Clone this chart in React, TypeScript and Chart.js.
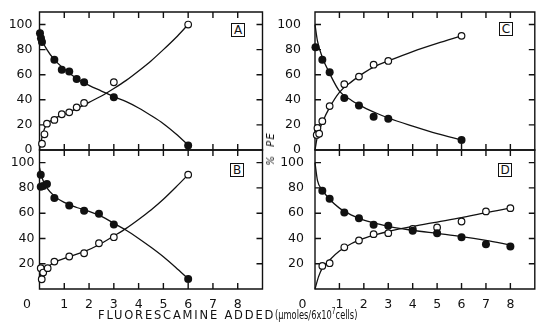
import React, { useEffect, useRef } from "react";
import { Chart, registerables } from "chart.js";
Chart.register(...registerables);

const FONT = "'DejaVu Sans', sans-serif";
const INK = "#111";

const xTickValues = [0, 1, 2, 3, 4, 5, 6, 7, 8];
const xTickLabels = ["0", "1", "2", "3", "4", "5", "6", "7", "8"];
const yTickValues = [0, 20, 40, 60, 80, 100];
const yTickLabels = ["0", "20", "40", "60", "80", "100"];

// Panel A
const aFilledX = [0.02, 0.06, 0.1, 0.6, 0.9, 1.2, 1.5, 1.8, 3, 6];
const aFilledY = [93, 89, 86, 72, 64, 62.5, 56.5, 54, 42, 3.5];
const aOpenX = [0.1, 0.2, 0.3, 0.6, 0.9, 1.2, 1.5, 1.8, 3, 6];
const aOpenY = [5, 12.5, 21, 24, 28.5, 30, 34, 37.5, 54, 100];
const aFilledCurveX = [0, 0.1, 0.3, 0.6, 1, 1.5, 2, 2.5, 3, 3.5, 4, 4.5, 5, 5.5, 6];
const aFilledCurveY = [97, 88, 80, 72, 64.5, 57, 51.5, 47, 42.5, 38.5, 33.5, 27.5, 21, 13, 4];
const aOpenCurveX = [0, 0.1, 0.2, 0.3, 0.6, 1, 1.5, 2, 2.5, 3, 3.5, 4, 4.5, 5, 5.5, 6];
const aOpenCurveY = [0, 10, 17, 20.5, 25, 28.5, 33, 38, 43, 49, 55.5, 63, 71, 80, 89.5, 100];

// Panel B
const bFilledX = [0.05, 0.05, 0.15, 0.3, 0.6, 1.2, 1.8, 2.4, 3, 6];
const bFilledY = [90.5, 81, 81.5, 83, 72, 66, 62, 59.5, 51, 8];
const bOpenX = [0.05, 0.09, 0.15, 0.33, 0.6, 1.2, 1.8, 2.4, 3, 6];
const bOpenY = [16.5, 7.7, 13, 16.5, 21.7, 25.7, 28.3, 36.2, 41, 90.5];
const bFilledCurveX = [0, 0.1, 0.3, 0.6, 1, 1.5, 2, 2.5, 3, 3.5, 4, 4.5, 5, 5.5, 6];
const bFilledCurveY = [96, 88, 80, 73.5, 68.5, 64.5, 61.5, 57.5, 52, 46.5, 40, 33, 25.5, 17, 8];
const bOpenCurveX = [0, 0.1, 0.3, 0.6, 1.2, 1.8, 2.4, 3, 3.5, 4, 4.5, 5, 5.5, 6];
const bOpenCurveY = [8, 13, 17, 21, 25.5, 29.5, 35, 42, 48, 55, 62.5, 71, 80.5, 90.5];

// Panel C
const cFilledX = [0.02, 0.3, 0.6, 1.2, 1.8, 2.4, 3, 6];
const cFilledY = [82, 72, 62, 41.5, 35.5, 26.5, 25, 8];
const cOpenX = [0.07, 0.1, 0.17, 0.3, 0.6, 1.2, 1.8, 2.4, 3, 6];
const cOpenY = [12, 17.5, 13, 23, 35, 52.5, 58.5, 68, 71, 91];
const cFilledCurveX = [0, 0.1, 0.3, 0.6, 1, 1.5, 2, 2.5, 3, 4, 5, 6];
const cFilledCurveY = [100, 87, 74, 61, 47, 39.5, 34, 29.5, 25.5, 19, 13, 8];
const cOpenCurveX = [0, 0.1, 0.2, 0.3, 0.6, 1, 1.5, 2, 2.5, 3, 4, 5, 6];
const cOpenCurveY = [0, 11, 17, 22, 34, 46, 54.5, 61.5, 67, 71, 78.5, 85, 91];

// Panel D
const dFilledX = [0.3, 0.6, 1.2, 1.8, 2.4, 3, 4, 5, 6, 7, 8];
const dFilledY = [77.8, 71.4, 60.6, 56, 50.8, 50, 46, 44.2, 41, 35.4, 33.6];
const dOpenX = [0.3, 0.6, 1.2, 1.8, 2.4, 3, 4, 5, 6, 7, 8];
const dOpenY = [18.3, 20.4, 33, 38.4, 43.4, 44.2, 47.6, 48.7, 53.4, 61.4, 64];
const dFilledCurveX = [0, 0.1, 0.3, 0.6, 1, 1.5, 2, 2.5, 3, 4, 5, 6, 7, 8];
const dFilledCurveY = [100, 86, 78.5, 71, 64, 58.5, 54.5, 52, 49.5, 46.5, 44, 41.5, 38.5, 35];
const dOpenCurveX = [0, 0.15, 0.3, 0.6, 1, 1.5, 2, 2.5, 3, 4, 5, 6, 7, 8];
const dOpenCurveY = [0, 10, 16.5, 23, 30, 36, 40, 43, 45.5, 49.5, 53, 56.5, 60.5, 64];

const pts = (xs: number[], ys: number[]) => xs.map((x, i) => ({ x, y: ys[i] }));

const framePlugin = {
  id: "frame",
  beforeDatasetsDraw(chart: any) {
    const { ctx, chartArea: a, scales } = chart;
    const xs = scales.x;
    const ys = scales.y;
    const t = 6;
    ctx.save();
    ctx.strokeStyle = INK;
    ctx.lineWidth = 1.4;
    ctx.beginPath();
    ctx.rect(a.left, a.top, a.right - a.left, a.bottom - a.top);
    ctx.stroke();
    ctx.beginPath();
    xTickValues.forEach((v) => {
      if (v === 0) return;
      const px = xs.getPixelForValue(v);
      ctx.moveTo(px, a.top);
      ctx.lineTo(px, a.top + t);
      ctx.moveTo(px, a.bottom);
      ctx.lineTo(px, a.bottom - t);
    });
    yTickValues.forEach((v) => {
      if (v === 0) return;
      const py = ys.getPixelForValue(v);
      ctx.moveTo(a.left, py);
      ctx.lineTo(a.left + t, py);
      ctx.moveTo(a.right, py);
      ctx.lineTo(a.right - t, py);
    });
    ctx.stroke();
    ctx.restore();
  },
};

interface PanelSpec {
  left: number;
  top: number;
  width: number;
  height: number;
  padTop: number;
  padRight: number;
  padBottom: number;
  yWidth: number;
  yPad: number;
  showX: boolean;
  showY0: boolean;
  xHeight: number;
  letter: string;
  letterLeft: number;
  letterTop: number;
  filledX: number[];
  filledY: number[];
  openX: number[];
  openY: number[];
  fcX: number[];
  fcY: number[];
  ocX: number[];
  ocY: number[];
}

const panels: PanelSpec[] = [
  {
    left: 0, top: 0, width: 268, height: 160, padTop: 12, padRight: 5.5, padBottom: 10,
    yWidth: 39.5, yPad: 7, showX: false, showY0: true, xHeight: 0,
    letter: "A", letterLeft: 231, letterTop: 23,
    filledX: aFilledX, filledY: aFilledY, openX: aOpenX, openY: aOpenY,
    fcX: aFilledCurveX, fcY: aFilledCurveY, ocX: aOpenCurveX, ocY: aOpenCurveY,
  },
  {
    left: 0, top: 140, width: 268, height: 175, padTop: 10, padRight: 5.5, padBottom: 0,
    yWidth: 39.5, yPad: 5, showX: true, showY0: false, xHeight: 26,
    letter: "B", letterLeft: 230, letterTop: 163,
    filledX: bFilledX, filledY: bFilledY, openX: bOpenX, openY: bOpenY,
    fcX: bFilledCurveX, fcY: bFilledCurveY, ocX: bOpenCurveX, ocY: bOpenCurveY,
  },
  {
    left: 276, top: 0, width: 264, height: 160, padTop: 12, padRight: 2, padBottom: 10,
    yWidth: 39, yPad: 14, showX: false, showY0: true, xHeight: 0,
    letter: "C", letterLeft: 499, letterTop: 22,
    filledX: cFilledX, filledY: cFilledY, openX: cOpenX, openY: cOpenY,
    fcX: cFilledCurveX, fcY: cFilledCurveY, ocX: cOpenCurveX, ocY: cOpenCurveY,
  },
  {
    left: 276, top: 140, width: 264, height: 175, padTop: 10, padRight: 2, padBottom: 0,
    yWidth: 39, yPad: 11, showX: true, showY0: false, xHeight: 26,
    letter: "D", letterLeft: 498, letterTop: 163,
    filledX: dFilledX, filledY: dFilledY, openX: dOpenX, openY: dOpenY,
    fcX: dFilledCurveX, fcY: dFilledCurveY, ocX: dOpenCurveX, ocY: dOpenCurveY,
  },
];

function Panel({ spec }: { spec: PanelSpec }) {
  const ref = useRef<HTMLCanvasElement>(null);
  useEffect(() => {
    const canvas = ref.current!;
    const chart = new Chart(canvas, {
      type: "scatter",
      data: {
        datasets: [
          {
            data: pts(spec.filledX, spec.filledY),
            pointRadius: 4,
            pointBackgroundColor: INK,
            pointBorderColor: INK,
            pointBorderWidth: 0,
            showLine: false,
            clip: false,
            order: 0,
          } as any,
          {
            data: pts(spec.openX, spec.openY),
            pointRadius: 3.3,
            pointBackgroundColor: "#fff",
            pointBorderColor: INK,
            pointBorderWidth: 1.2,
            showLine: false,
            clip: false,
            order: 0,
          },
          {
            data: pts(spec.fcX, spec.fcY),
            pointRadius: 0,
            showLine: true,
            borderColor: INK,
            borderWidth: 1.3,
            cubicInterpolationMode: "monotone",
            clip: false,
            order: 1,
          },
          {
            data: pts(spec.ocX, spec.ocY),
            pointRadius: 0,
            showLine: true,
            borderColor: INK,
            borderWidth: 1.3,
            cubicInterpolationMode: "monotone",
            clip: false,
            order: 1,
          },
        ],
      },
      options: {
        animation: false,
        responsive: false,
        devicePixelRatio: 1,
        events: [],
        layout: { padding: { top: spec.padTop, right: spec.padRight, bottom: spec.padBottom, left: 0 } },
        plugins: { legend: { display: false }, tooltip: { enabled: false } },
        scales: {
          x: {
            type: "linear",
            min: 0,
            max: 9,
            display: spec.showX,
            grid: { display: false, drawTicks: false },
            border: { display: false },
            afterBuildTicks: (s: any) => {
              s.ticks = xTickValues.map((v) => ({ value: v }));
            },
            afterFit: (s: any) => {
              s.height = spec.xHeight;
              s.paddingLeft = 0;
              s.paddingRight = 0;
            },
            ticks: {
              autoSkip: false,
              maxRotation: 0,
              minRotation: 0,
              padding: 8,
              color: INK,
              font: { family: FONT, size: 12.5 },
              callback: (_v: any, i: number) =>
                i === 0 ? xTickLabels[0] + "\u2002\u2002\u2002\u2002" : xTickLabels[i],
            },
          },
          y: {
            type: "linear",
            min: 0,
            max: 110,
            grid: { display: false, drawTicks: false },
            border: { display: false },
            afterBuildTicks: (s: any) => {
              s.ticks = yTickValues.map((v) => ({ value: v }));
            },
            afterFit: (s: any) => {
              s.width = spec.yWidth;
              s.paddingTop = 0;
              s.paddingBottom = 0;
            },
            ticks: {
              autoSkip: false,
              padding: spec.yPad,
              color: INK,
              font: { family: FONT, size: 12.5 },
              callback: (_v: any, i: number) => (i === 0 && !spec.showY0 ? "" : yTickLabels[i]),
            },
          },
        },
      } as any,
      plugins: [framePlugin],
    });
    return () => chart.destroy();
  }, []);
  return (
    <div style={{ position: "absolute", left: spec.left, top: spec.top, width: spec.width, height: spec.height }}>
      <canvas ref={ref} width={spec.width} height={spec.height} style={{ display: "block" }} />
    </div>
  );
}

export default function App() {
  return (
    <div
      style={{
        position: "fixed",
        left: 0,
        top: 0,
        width: 537,
        height: 327,
        background: "#fff",
        overflow: "hidden",
        fontFamily: FONT,
        color: INK,
      }}
    >
      {panels.map((p) => (
        <Panel key={p.letter} spec={p} />
      ))}
      {panels.map((p) => (
        <div
          key={"l" + p.letter}
          style={{
            position: "absolute",
            left: p.letterLeft,
            top: p.letterTop,
            width: 12,
            height: 12,
            border: `1.5px solid ${INK}`,
            fontSize: 12,
            lineHeight: "12px",
            textAlign: "center",
            background: "#fff",
          }}
        >
          {p.letter}
        </div>
      ))}
      <div
        style={{
          position: "absolute",
          left: 271,
          top: 149,
          transform: "translate(-50%, -50%) rotate(-90deg)",
          fontSize: 10,
          fontStyle: "italic",
          whiteSpace: "pre",
          letterSpacing: 1,
          lineHeight: "12px",
        }}
      >
        {"%  PE"}
      </div>
      <div
        style={{
          position: "absolute",
          left: 98,
          top: 308,
          fontSize: 11.5,
          lineHeight: "14px",
          whiteSpace: "nowrap",
        }}
      >
        <span style={{ letterSpacing: 1.8 }}>FLUORESCAMINE ADDED</span>
        <span
          style={{
            display: "inline-block",
            fontSize: 12,
            letterSpacing: 0,
            transform: "scaleX(0.69)",
            transformOrigin: "left center",
          }}
        >
          (μmoles/6x10
          <span style={{ fontSize: 8.5, position: "relative", top: -5 }}>7</span>
          cells)
        </span>
      </div>
    </div>
  );
}
